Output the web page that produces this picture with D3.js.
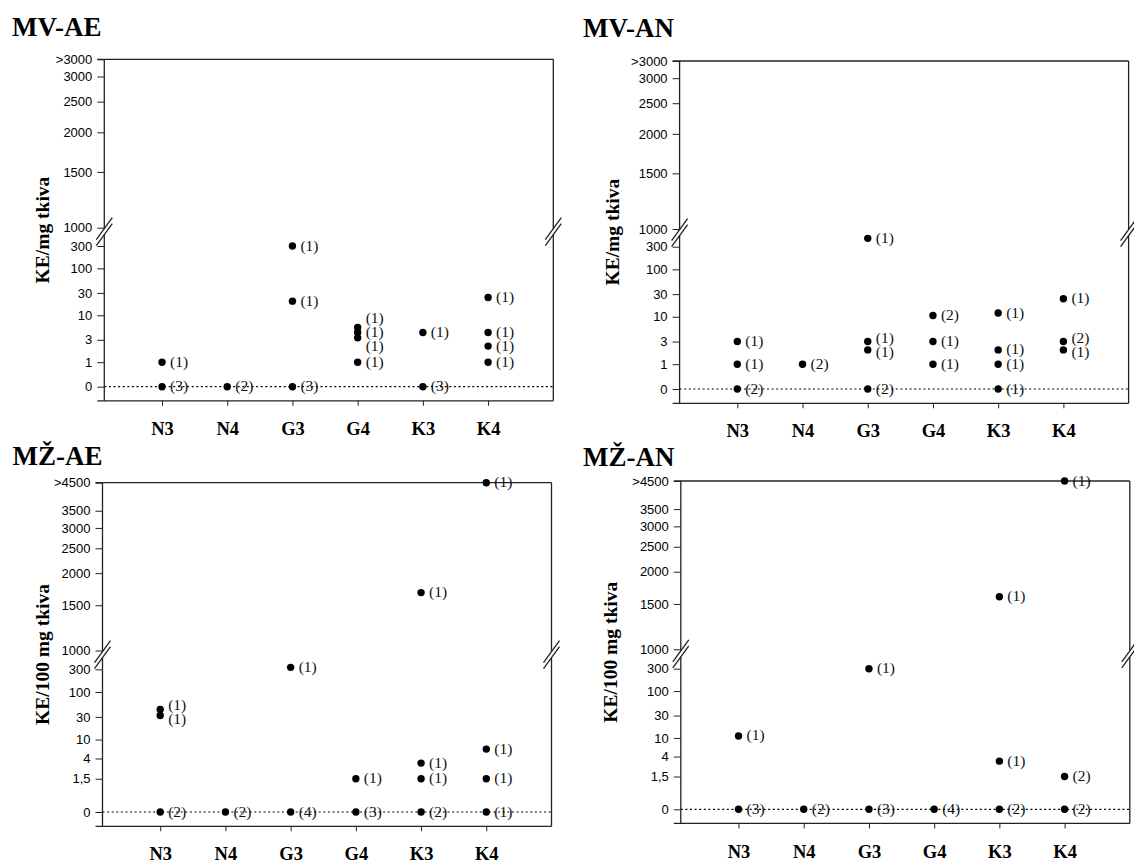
<!DOCTYPE html>
<html lang="en">
<head>
<meta charset="UTF-8">
<title>KE po skupinama</title>
<script src="https://cdnjs.cloudflare.com/ajax/libs/d3/7.8.5/d3.min.js"></script>
<style>
  html, body { margin: 0; padding: 0; background: #fff; }
  svg { display: block; }
  .panel-title { font-family: "Liberation Serif", "Times New Roman", serif; font-weight: bold; font-size: 27px; fill: #000; }
  .y-title { font-family: "Liberation Serif", "Times New Roman", serif; font-weight: bold; font-size: 19.5px; fill: #000; }
  .y-axis text { font-family: "Liberation Sans", Arial, sans-serif; font-size: 13px; fill: #000; }
  .x-axis text { font-family: "Liberation Serif", "Times New Roman", serif; font-weight: bold; font-size: 18.5px; fill: #000; }
  .count-label { font-family: "Liberation Serif", "Times New Roman", serif; font-size: 15.5px; fill: #111; }
  .frame { stroke: #222; stroke-width: 1.3; fill: none; }
</style>
</head>
<body>
<svg id="chart" width="1134" height="864"></svg>
<script>
  // categories on the x axis
  const categories = ["N3", "N4", "G3", "G4", "K3", "K4"];

  // values per category (0 = nothing found) and the sample count shown next to each dot
  const mvAeValues = [[1, 0], [0], [300, 20, 0], [5.5, 4.3, 3.3, 1], [4.3, 0], [24, 4.3, 2.2, 1]];
  const mvAeCounts = [[1, 3], [2], [1, 1, 3], [1, 1, 1, 1], [1, 3], [1, 1, 1, 1]];

  const mvAnValues = [[3, 1, 0], [1], [450, 3, 2, 0], [10.6, 3, 1], [12, 2, 1, 0], [24, 3, 2]];
  const mvAnCounts = [[1, 1, 2], [2], [1, 1, 1, 2], [2, 1, 1], [1, 1, 1, 1], [1, 2, 1]];

  const mzAeValues = [[43, 32, 0], [0], [330, 0], [1.5, 0], [1680, 3.2, 1.5, 0], [4500, 6.3, 1.5, 0]];
  const mzAeCounts = [[1, 1, 2], [2], [1, 4], [1, 3], [1, 1, 1, 2], [1, 1, 1, 1]];

  const mzAnValues = [[11, 0], [0], [300, 0], [0], [1600, 3.2, 0], [4500, 1.5, 0]];
  const mzAnCounts = [[1, 3], [2], [1, 3], [4], [1, 1, 2], [1, 2, 2]];

  // y ticks (broken axis: log lower part, log upper part)
  const mvLowTicks = [0, 1, 3, 10, 30, 100, 300];
  const mvUpTicks = [1000, 1500, 2000, 2500, 3000];
  const mvTopValue = 3400;
  const mvTopLabel = ">3000";

  const mzLowTicks = [0, 1.5, 4, 10, 30, 100, 300];
  const mzUpTicks = [1000, 1500, 2000, 2500, 3000, 3500];
  const mzTopValue = 4500;
  const mzTopLabel = ">4500";

  const panels = [
    {title: "MV-AE", yTitle: "KE/mg tkiva", values: mvAeValues, counts: mvAeCounts,
     lowTicks: mvLowTicks, upTicks: mvUpTicks, topValue: mvTopValue, topLabel: mvTopLabel,
     titleX: 12, titleY: 36, yTitleX: 49, x0: 104.3, yTop: 59.3, y1000: 227.7, y300: 246, yZero: 386.7},
    {title: "MV-AN", yTitle: "KE/mg tkiva", values: mvAnValues, counts: mvAnCounts,
     lowTicks: mvLowTicks, upTicks: mvUpTicks, topValue: mvTopValue, topLabel: mvTopLabel,
     titleX: 583, titleY: 37, yTitleX: 619, x0: 679.6, yTop: 61, y1000: 229, y300: 246.7, yZero: 389},
    {title: "MŽ-AE", yTitle: "KE/100 mg tkiva", values: mzAeValues, counts: mzAeCounts,
     lowTicks: mzLowTicks, upTicks: mzUpTicks, topValue: mzTopValue, topLabel: mzTopLabel,
     titleX: 12.5, titleY: 465, yTitleX: 48.5, x0: 102.5, yTop: 482.7, y1000: 650.5, y300: 669.3, yZero: 812},
    {title: "MŽ-AN", yTitle: "KE/100 mg tkiva", values: mzAnValues, counts: mzAnCounts,
     lowTicks: mzLowTicks, upTicks: mzUpTicks, topValue: mzTopValue, topLabel: mzTopLabel,
     titleX: 583, titleY: 466, yTitleX: 617, x0: 680.8, yTop: 481, y1000: 649.3, y300: 668.7, yZero: 809.3}
  ];

  const svg = d3.select("#chart");
  const plotWidth = 449;
  const zeroPlot = 0.3;   // where "0" sits on the log axis
  const labelGap = 14;

  // push overlapping labels apart, keeping each group centred on its dots
  function spreadLabels(ys, gap) {
    const items = ys.map((y, i) => ({y, i})).sort((a, b) => a.y - b.y);
    let clusters = items.map(d => ({members: [d], center: d.y}));
    let merged = true;
    while (merged) {
      merged = false;
      for (let k = 0; k < clusters.length - 1; k++) {
        const a = clusters[k], b = clusters[k + 1];
        const aEnd = a.center + (a.members.length - 1) * gap / 2;
        const bStart = b.center - (b.members.length - 1) * gap / 2;
        if (bStart - aEnd < gap) {
          const members = a.members.concat(b.members);
          clusters.splice(k, 2, {members, center: d3.mean(members, m => m.y)});
          merged = true;
          break;
        }
      }
    }
    const out = new Array(ys.length);
    clusters.forEach(c => c.members.forEach((m, j) => {
      out[m.i] = c.center + (j - (c.members.length - 1) / 2) * gap;
    }));
    return out;
  }

  function frameLine(g, x1, y1, x2, y2) {
    g.append("line").attr("class", "frame")
      .attr("x1", x1).attr("y1", y1).attr("x2", x2).attr("y2", y2);
  }

  function breakMark(g, x, yMid) {
    [-3, 3].forEach(off => {
      g.append("line").attr("class", "frame").attr("stroke-width", 1)
        .attr("x1", x - 8).attr("y1", yMid + off + 11)
        .attr("x2", x + 8).attr("y2", yMid + off - 11);
    });
  }

  panels.forEach(p => {
    const g = svg.append("g");

    const x = d3.scaleLinear().domain([0.115, 7]).range([p.x0, p.x0 + plotWidth]);
    const yLow = d3.scaleLog().domain([zeroPlot, 300]).range([p.yZero, p.y300]);
    const yUp = d3.scaleLog().domain([1000, p.topValue]).range([p.y1000, p.yTop]);
    const yOf = v => v === 0 ? yLow(zeroPlot) : (v < 1000 ? yLow(v) : yUp(v));

    const yBottom = yLow(0.15);
    const yLowTop = yLow(500);
    const yBreak = (yLowTop + p.y1000) / 2;
    const xRight = p.x0 + plotWidth;

    // titles
    g.append("text").attr("class", "panel-title")
      .attr("x", p.titleX).attr("y", p.titleY).text(p.title);
    g.append("text").attr("class", "y-title")
      .attr("text-anchor", "middle")
      .attr("transform", `translate(${p.yTitleX},${(p.yTop + yBottom) / 2}) rotate(-90)`)
      .text(p.yTitle);

    // dotted zero line
    g.append("line")
      .attr("x1", p.x0).attr("x2", xRight)
      .attr("y1", yOf(0)).attr("y2", yOf(0))
      .attr("stroke", "#000").attr("stroke-width", 1.2)
      .attr("stroke-dasharray", "2,2.6");

    // y axes (lower and upper part)
    g.append("g").attr("class", "y-axis")
      .attr("transform", `translate(${p.x0},0)`)
      .style("color", "#222")
      .call(d3.axisLeft(yLow)
        .tickValues(p.lowTicks.map(v => v === 0 ? zeroPlot : v))
        .tickFormat(v => v === zeroPlot ? "0" : String(v).replace(".", ","))
        .tickSize(7).tickPadding(5))
      .call(a => a.select(".domain").remove());

    g.append("g").attr("class", "y-axis")
      .attr("transform", `translate(${p.x0},0)`)
      .style("color", "#222")
      .call(d3.axisLeft(yUp)
        .tickValues(p.upTicks.concat([p.topValue]))
        .tickFormat(v => v === p.topValue ? p.topLabel : String(v))
        .tickSize(7).tickPadding(5))
      .call(a => a.select(".domain").remove());

    // x axis
    g.append("g").attr("class", "x-axis")
      .attr("transform", `translate(0,${yBottom})`)
      .style("color", "#222")
      .call(d3.axisBottom(x)
        .tickValues(d3.range(1, categories.length + 1))
        .tickFormat(i => categories[i - 1])
        .tickSize(5).tickPadding(16))
      .call(a => a.select(".domain").remove());

    // frame with broken sides
    frameLine(g, p.x0 - 7, p.yTop, xRight, p.yTop);
    frameLine(g, p.x0 - 7, yBottom, xRight, yBottom);
    [p.x0, xRight].forEach(xx => {
      frameLine(g, xx, p.yTop, xx, yBreak - 3);
      frameLine(g, xx, yBreak + 3, xx, yBottom);
      breakMark(g, xx, yBreak);
    });

    // dots and count labels
    p.values.forEach((vals, ci) => {
      const cx = x(ci + 1);
      const ys = vals.map(yOf);
      const labelYs = spreadLabels(ys, labelGap);

      g.selectAll(null).data(vals).enter().append("circle")
        .attr("cx", cx).attr("cy", v => yOf(v)).attr("r", 3.7)
        .attr("fill", "#000");

      g.selectAll(null).data(p.counts[ci]).enter().append("text")
        .attr("class", "count-label")
        .attr("x", cx + 8)
        .attr("y", (c, j) => labelYs[j] + 4.5)
        .text(c => `(${c})`);
    });
  });
</script>
</body>
</html>
